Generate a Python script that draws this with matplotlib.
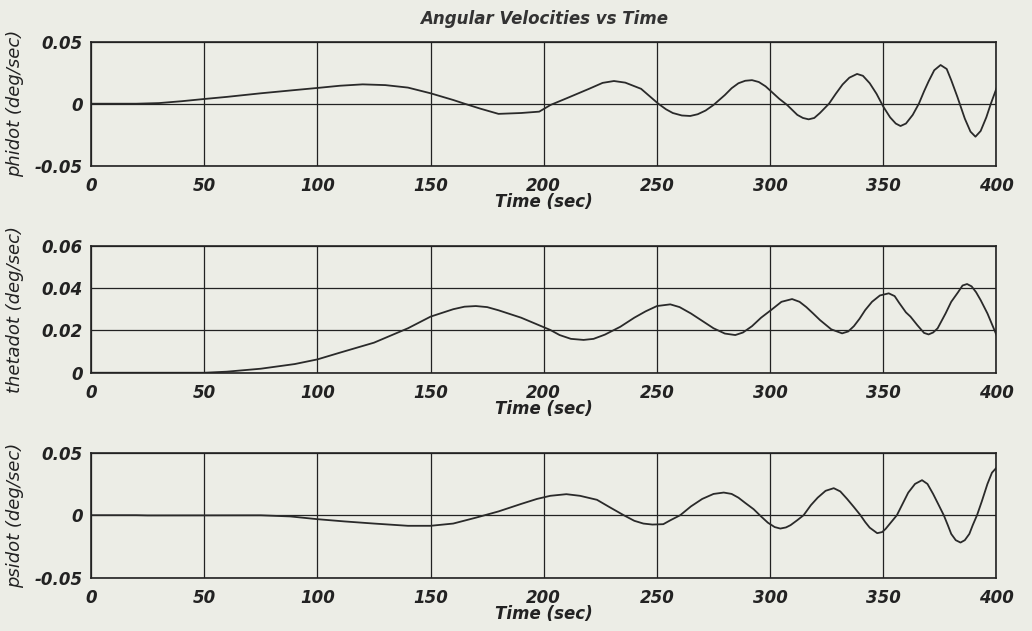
import matplotlib
matplotlib.use("Agg")
import matplotlib.pyplot as plt

# ---- data ----
t_phi = [0, 20, 30, 40, 50, 60, 75, 90, 100, 110, 120, 130, 140, 150, 160, 165, 172, 180,
         190, 198, 203, 210, 220, 226, 231, 236, 243, 250.6, 254, 257, 261, 264.7, 268, 271.5,
         275, 280, 283, 286, 289, 292, 295, 298, 301, 304, 307.5, 312, 314.5, 317, 319.5, 322,
         326, 329, 332, 335, 338.4, 341, 344, 347, 350, 353, 355.5, 357.6, 360, 363, 365.7,
         368, 370, 372.5, 375.3, 378, 380, 382.7, 386, 388.5, 390.7, 393, 395.5, 397.5, 400]
phidot = [0, 0, 0.0005, 0.002, 0.0038, 0.0055, 0.0084, 0.011, 0.0127, 0.0145, 0.0156, 0.015,
          0.013, 0.0084, 0.003, 0, -0.004, -0.0082, -0.0075, -0.0064, -0.001, 0.0043, 0.012,
          0.0168, 0.0183, 0.017, 0.012, 0, -0.0045, -0.0075, -0.0095, -0.0099, -0.0085,
          -0.0055, -0.001, 0.007, 0.0125, 0.0165, 0.0185, 0.019, 0.0175, 0.014, 0.009, 0.004,
          -0.001, -0.009, -0.0115, -0.0126, -0.0115, -0.0075, 0, 0.008, 0.0155, 0.021, 0.024,
          0.0225, 0.0165, 0.008, -0.0024, -0.011, -0.016, -0.018, -0.016, -0.009, 0, 0.01,
          0.018, 0.027, 0.0312, 0.028, 0.019, 0.0056, -0.012, -0.0225, -0.0266, -0.022,
          -0.011, 0, 0.0124]

t_theta = [0, 50, 60, 75, 90, 100, 110, 125, 140, 150, 160, 165, 170, 175, 180, 190, 202.9,
           207, 212, 217.6, 222, 227, 233.8, 240, 245, 250, 255.9, 260, 265, 270, 275, 280,
           284.6, 288, 292, 296, 300.4, 305, 309.7, 313, 316, 319, 322, 327, 331.8, 334.5, 337,
           339.5, 342, 345, 348.5, 352.4, 355, 357, 360, 362, 365, 368, 370, 372, 374, 377.5,
           380, 383, 385, 387, 389, 391, 393, 396, 400]
thetadot = [0, 0, 0.0005, 0.0019, 0.0041, 0.0063, 0.0095, 0.0142, 0.021, 0.0265, 0.030,
            0.0312, 0.0315, 0.031, 0.0295, 0.026, 0.0202, 0.0178, 0.016, 0.0155, 0.016, 0.018,
            0.0217, 0.026, 0.029, 0.0315, 0.0323, 0.031, 0.028, 0.0245, 0.021, 0.0185, 0.0178,
            0.019, 0.022, 0.026, 0.0296, 0.0335, 0.0348, 0.0335, 0.031, 0.028, 0.0249, 0.0205,
            0.0186, 0.0195, 0.022, 0.0255, 0.0296, 0.0335, 0.0365, 0.0375, 0.0362, 0.033,
            0.0285, 0.0265, 0.0225, 0.0188, 0.0181, 0.019, 0.021, 0.028, 0.0335, 0.038, 0.0412,
            0.0419, 0.0408, 0.038, 0.0343, 0.028, 0.0178]

t_psi = [0, 20, 25, 75, 88, 100, 112, 125, 140, 150, 160, 170, 175, 180, 190, 197, 202.9, 210,
         216, 223.5, 229, 235.3, 240, 244, 248, 252.8, 256, 260.3, 265, 270, 275, 279.5, 283,
         286, 289, 292.7, 296, 299, 302, 304.5, 307, 309, 312, 314.8, 318, 321, 324.5, 328.1,
         331, 334, 337, 339.9, 342, 344, 347.3, 349.5, 351, 353.5, 356, 358.5, 361, 364, 367.1,
         369.5, 372, 374.5, 376.7, 378.5, 380, 382, 384.1, 386, 388, 389.5, 391.4, 393.5, 396,
         398, 400]
psidot = [0, 0, -0.0002, -0.0001, -0.001, -0.0032, -0.005, -0.0067, -0.0085, -0.0085, -0.0067,
          -0.002, 0.0005, 0.003, 0.009, 0.013, 0.0155, 0.0168, 0.0155, 0.0123, 0.0065, 0,
          -0.0045, -0.0067, -0.0075, -0.0072, -0.004, 0, 0.007, 0.013, 0.017, 0.0181, 0.017,
          0.014, 0.0098, 0.0048, -0.001, -0.006, -0.0095, -0.0107, -0.0098, -0.008, -0.004, 0,
          0.008, 0.014, 0.0195, 0.0216, 0.019, 0.013, 0.0065, 0, -0.0055, -0.01, -0.0144,
          -0.0135, -0.011, -0.0055, 0, 0.009, 0.018, 0.025, 0.028, 0.025, 0.017, 0.008, 0,
          -0.008, -0.015, -0.02, -0.0219, -0.02, -0.015, -0.008, 0, 0.011, 0.025, 0.034, 0.038]

x_ticks = [0, 50, 100, 150, 200, 250, 300, 350, 400]
x_ticklabels = ["0", "50", "100", "150", "200", "250", "300", "350", "400"]
yticks_phi = [-0.05, 0, 0.05]
yticklabels_phi = ["-0.05", "0", "0.05"]
yticks_theta = [0, 0.02, 0.04, 0.06]
yticklabels_theta = ["0", "0.02", "0.04", "0.06"]
yticks_psi = [-0.05, 0, 0.05]
yticklabels_psi = ["-0.05", "0", "0.05"]

title = "Angular Velocities vs Time"
xlabel = "Time (sec)"
ylabels = ["phidot (deg/sec)", "thetadot (deg/sec)", "psidot (deg/sec)"]

# ---- figure ----
bg = "#ecede6"
fig = plt.figure(figsize=(10.32, 6.31), dpi=100, facecolor=bg)
tick_font = dict(family="DejaVu Sans", style="italic", weight="bold", size=12, color="#222222")
label_font = dict(family="DejaVu Sans", style="italic", weight="bold", size=12, color="#222222")
ylabel_font = dict(family="DejaVu Sans", style="italic", weight="normal", size=13, color="#222222")
title_font = dict(family="DejaVu Sans", style="italic", weight="bold", size=12, color="#333333")

positions = [
    [0.0882, 0.7374, 0.8774, 0.1965],
    [0.0882, 0.4093, 0.8774, 0.2013],
    [0.0882, 0.0845, 0.8774, 0.1981],
]
series = [(t_phi, phidot, yticks_phi, yticklabels_phi, (-0.05, 0.05)),
          (t_theta, thetadot, yticks_theta, yticklabels_theta, (0, 0.06)),
          (t_psi, psidot, yticks_psi, yticklabels_psi, (-0.05, 0.05))]

for i, (pos, (tx, vy, yt, ytl, ylim)) in enumerate(zip(positions, series)):
    ax = fig.add_axes(pos, facecolor=bg)
    ax.plot(tx, vy, color="#2a2a2a", lw=1.3)
    ax.set_xlim(0, 400)
    ax.set_ylim(*ylim)
    ax.set_xticks(x_ticks)
    ax.set_xticklabels(x_ticklabels, fontdict=tick_font)
    ax.set_yticks(yt)
    ax.set_yticklabels(ytl, fontdict=tick_font)
    ax.tick_params(length=0)
    ax.tick_params(axis="y", pad=6)
    ax.tick_params(axis="x", pad=8)
    ax.grid(True, color="#222222", lw=0.9)
    for s in ax.spines.values():
        s.set_color("#222222")
        s.set_linewidth(1.2)
    ax.set_xlabel(xlabel, fontdict=label_font, labelpad=-1)
    ax.set_ylabel(ylabels[i], fontdict=ylabel_font)
    ax.yaxis.set_label_coords(-0.074, 0.5)
    if i == 0:
        ax.set_title(title, fontdict=title_font, pad=13)

fig.savefig("out.png", dpi=100, facecolor=bg)
